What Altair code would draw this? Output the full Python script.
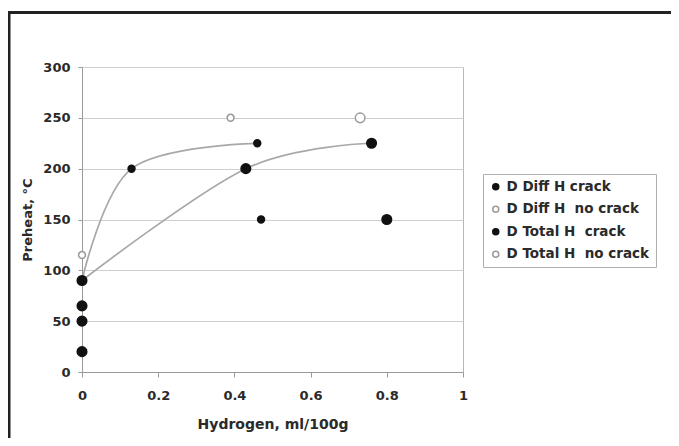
import altair as alt
import pandas as pd

# ---- scatter series (hydrogen ml/100g, preheat °C) ----
diff_crack_x = [0.13, 0.46, 0.47]
diff_crack_y = [200, 225, 150]
diff_nocrack_x = [0.0, 0.39]
diff_nocrack_y = [115, 250]
total_crack_x = [0.0, 0.0, 0.0, 0.0, 0.43, 0.76, 0.80]
total_crack_y = [90, 65, 50, 20, 200, 225, 150]
total_nocrack_x = [0.73]
total_nocrack_y = [250]

series_names = ["D Diff H crack", "D Diff H\u00a0 no crack",
                "D Total H\u00a0 crack", "D Total H\u00a0 no crack"]

# ---- smoothed trend lines (Excel-style smooth line through these points) ----
diff_curve_x = [0.0, 0.13, 0.46]
diff_curve_y = [90, 200, 225]
total_curve_x = [0.0, 0.43, 0.76]
total_curve_y = [90, 200, 225]

x_ticks = [0, 0.2, 0.4, 0.6, 0.8, 1]
y_ticks = [0, 50, 100, 150, 200, 250, 300]

# ---- tables ----
small_pts = pd.concat([
    pd.DataFrame({"h": diff_crack_x, "p": diff_crack_y, "series": series_names[0]}),
    pd.DataFrame({"h": diff_nocrack_x, "p": diff_nocrack_y, "series": series_names[1]}),
], ignore_index=True)
large_pts = pd.concat([
    pd.DataFrame({"h": total_crack_x, "p": total_crack_y, "series": series_names[2]}),
    pd.DataFrame({"h": total_nocrack_x, "p": total_nocrack_y, "series": series_names[3]}),
], ignore_index=True)

curves = pd.concat([
    pd.DataFrame({"h": diff_curve_x, "p": diff_curve_y, "curve": "diff"}),
    pd.DataFrame({"h": total_curve_x, "p": total_curve_y, "curve": "total"}),
], ignore_index=True)

FONT = "DejaVu Sans"
TXT = "#2a2a2a"

X = alt.X("h:Q", title="Hydrogen, ml/100g",
          scale=alt.Scale(domain=[0, 1], nice=False),
          axis=alt.Axis(values=x_ticks, format="~g", grid=False, labelFlush=False,
                        tickSize=5, labelPadding=12,
                        titleFontSize=14, titleY=52, titleBaseline="middle"))
Y = alt.Y("p:Q", title="Preheat, °C",
          scale=alt.Scale(domain=[0, 300], nice=False),
          axis=alt.Axis(values=y_ticks, grid=True, tickSize=4, labelPadding=8,
                        labelFlush=False,
                        titleFontSize=13, titleX=-55, titleY=152.5,
                        titleBaseline="middle"))

FILL = alt.Color("series:N", title=None,
                 scale=alt.Scale(domain=series_names,
                                 range=["#111111", "#ffffff", "#111111", "#ffffff"]))
STROKE = alt.Stroke("series:N", title=None,
                    scale=alt.Scale(domain=series_names,
                                    range=["#111111", "#9a9a9a", "#111111", "#9a9a9a"]))

lines = alt.Chart(curves).mark_line(
    interpolate="cardinal", tension=0, color="#a8a8a8", strokeWidth=1.7
).encode(x=X, y=Y, detail="curve:N")

small = alt.Chart(small_pts).mark_circle(opacity=1, size=48, strokeWidth=1.5).encode(
    x=X, y=Y, color=FILL, stroke=STROKE)
large = alt.Chart(large_pts).mark_circle(opacity=1, size=92, strokeWidth=1.5).encode(
    x=X, y=Y, color=FILL, stroke=STROKE)

frame_df = pd.DataFrame({"k": [0]})
frame_left = alt.Chart(frame_df).mark_rule(color="#222222", strokeWidth=3).encode(
    x=alt.value(-73), y=alt.value(-54.5), y2=alt.value(380))
frame_top = alt.Chart(frame_df).mark_rule(color="#222222", strokeWidth=3).encode(
    x=alt.value(-74), x2=alt.value(600), y=alt.value(-54.5))

chart = alt.layer(lines, small, large, frame_left, frame_top).properties(
    width=381, height=305, autosize="none",
    padding={"left": 74, "top": 59, "right": 208, "bottom": 66},
    background="white",
).configure_view(
    stroke="#b8b8b8", strokeWidth=1
).configure_axis(
    domainColor="#9a9a9a", tickColor="#9a9a9a", gridColor="#cfcfcf",
    labelFont=FONT, labelFontWeight="bold", labelFontSize=13, labelColor=TXT,
    titleFont=FONT, titleFontWeight="bold", titleColor=TXT,
).configure_legend(
    orient="none", legendX=401, legendY=107,
    padding=6, strokeColor="#b0b0b0", fillColor="white",
    labelFont=FONT, labelFontWeight="bold", labelFontSize=13.5,
    labelColor=TXT, symbolSize=36, symbolStrokeWidth=1.5,
    labelOffset=4, rowPadding=7.5, labelLimit=300, symbolType="circle",
)

chart.save("out.html", embed_options={"renderer": "svg", "actions": False})
